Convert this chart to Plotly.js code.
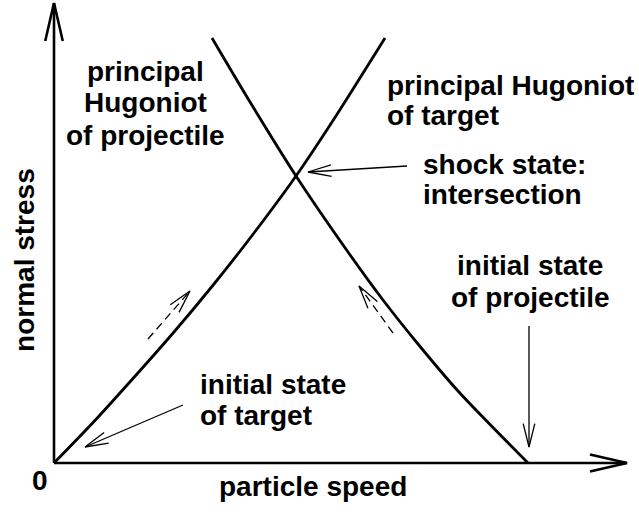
<!DOCTYPE html>
<html><head><meta charset="utf-8">
<script src="https://cdn.plot.ly/plotly-3.0.1.min.js"></script>
<style>html,body{margin:0;padding:0;background:#fff}</style>
</head><body><div id="chart" style="width:639px;height:512px"></div>
<script>
// ---- Data (schematic, arbitrary units) ----
const targetSpeed      = [0, 0.40, 0.83, 1.20, 1.60, 2.00, 2.42, 2.80, 3.31];
const targetStress     = [0, 0.415, 0.89, 1.31, 1.79, 2.30, 2.87, 3.44, 4.25];
const projectileSpeed  = [4.74, 4.04, 3.64, 3.29, 2.94, 2.42, 1.93, 1.58];
const projectileStress = [0, 0.72, 1.19, 1.63, 2.11, 2.87, 3.66, 4.25];
const shockIndexTarget = 6;   // intersection point index on target curve
const axisMaxSpeed  = 5.73;
const axisMaxStress = 4.60;

// ---- Layout helpers ----
const W = 639, H = 512;
const xr = [-0.54, 5.85], yr = [-0.49, 4.63];
const toPx = (x, y) => [(x - xr[0]) / (xr[1] - xr[0]) * W, (1 - (y - yr[0]) / (yr[1] - yr[0])) * H];
const toD  = (px, py) => [xr[0] + px / W * (xr[1] - xr[0]), yr[1] - py / H * (yr[1] - yr[0])];

const shapes = [];
function seg(p1, p2, width, dash) {
  const a = toD(p1[0], p1[1]), b = toD(p2[0], p2[1]);
  shapes.push({type: 'line', xref: 'x', yref: 'y', x0: a[0], y0: a[1], x1: b[0], y1: b[1],
    line: {color: '#000', width: width, dash: dash || 'solid'}, layer: 'above'});
}
function head(tip, from, len, ang, width) {
  const dx = from[0] - tip[0], dy = from[1] - tip[1], n = Math.hypot(dx, dy);
  const ux = dx / n, uy = dy / n, r = ang * Math.PI / 180;
  const arms = [r, -r].map(t => [tip[0] + len * (ux * Math.cos(t) - uy * Math.sin(t)),
                                 tip[1] + len * (ux * Math.sin(t) + uy * Math.cos(t))]);
  const d = arms.map(p => toD(p[0], p[1])), t = toD(tip[0], tip[1]);
  shapes.push({type: 'path', xref: 'x', yref: 'y',
    path: `M${d[0][0]},${d[0][1]} L${t[0]},${t[1]} L${d[1][0]},${d[1][1]}`,
    line: {color: '#000', width: width}, layer: 'above'});
}
function arrow(tail, tip, width, dash, len, ang) {
  seg(tail, tip, width, dash);
  head(tip, tail, len, ang, width);
}
const add = (p, o) => [p[0] + o[0], p[1] + o[1]];

// axes
const O = toPx(0, 0);
arrow(O, toPx(0, axisMaxStress), 2.6, null, 39, 13);
arrow(O, toPx(axisMaxSpeed, 0), 2.6, null, 38, 13);

// pointer arrows
const shockP = toPx(targetSpeed[shockIndexTarget], targetStress[shockIndexTarget]);
const shockHead = add(shockP, [12, -4]);
arrow(add(shockHead, [99, -6]), shockHead, 1.3, null, 24, 14);
const tgtHead = add(O, [31, -16]);
arrow(add(tgtHead, [98, -42]), tgtHead, 1.3, null, 24, 14);
const projP = toPx(projectileSpeed[0], projectileStress[0]);
const projHead = add(projP, [1, -16]);
arrow(add(projHead, [0, -121]), projHead, 1.3, null, 24, 14);

// dashed direction arrows beside curves
const tRef = toPx(targetSpeed[3], targetStress[3]);
arrow(add(tRef, [-26, 7]), add(tRef, [16, -41]), 1.3, '8px,5px', 24, 14);
const pRef = toPx(projectileSpeed[2], projectileStress[2]);
arrow(add(pRef, [-25, -11]), add(pRef, [-59, -58]), 1.3, '8px,5px', 24, 14);

// ---- Labels ----
const FS = 28;
const font = {family: 'Liberation Sans, Arial, sans-serif', size: FS, color: '#000', weight: 'bold'};
const labels = [
  // text, x px, baseline px, xanchor
  ['principal', 145, 82, 'center'],
  ['Hugoniot', 145, 113, 'center'],
  ['of projectile', 145, 146, 'center'],
  ['principal Hugoniot', 386, 96, 'left'],
  ['of target', 386, 126, 'left'],
  ['shock state:', 422, 175, 'left'],
  ['intersection', 422, 205, 'left'],
  ['initial state', 530, 276, 'center'],
  ['of projectile', 530, 308, 'center'],
  ['initial state', 199, 395, 'left'],
  ['of target', 199, 426, 'left'],
  ['particle speed', 313, 497, 'center'],
  ['0', 40, 491, 'center']
];
const annotations = labels.map(l => {
  const p = toD(l[1], l[2] - 0.36 * FS);
  return {text: l[0], x: p[0], y: p[1], xref: 'x', yref: 'y', xanchor: l[3], yanchor: 'middle',
          showarrow: false, font: font, borderpad: 0};
});
const vt = toD(34 - 0.36 * FS, 260);
annotations.push({text: 'normal stress', x: vt[0], y: vt[1], xref: 'x', yref: 'y', textangle: -90,
  xanchor: 'center', yanchor: 'middle', showarrow: false, font: font, borderpad: 0});

const traces = [
  {x: targetSpeed, y: targetStress, type: 'scatter', mode: 'lines', name: 'target',
   line: {color: '#000', width: 2.8, shape: 'spline', smoothing: 0.8}},
  {x: projectileSpeed, y: projectileStress, type: 'scatter', mode: 'lines', name: 'projectile',
   line: {color: '#000', width: 2.8, shape: 'spline', smoothing: 0.8}}
];

const layout = {
  width: W, height: H, margin: {l: 0, r: 0, t: 0, b: 0, pad: 0},
  paper_bgcolor: '#fff', plot_bgcolor: '#fff', showlegend: false,
  xaxis: {range: xr, visible: false, fixedrange: true},
  yaxis: {range: yr, visible: false, fixedrange: true},
  shapes: shapes, annotations: annotations
};
Plotly.newPlot('chart', traces, layout, {displayModeBar: false, staticPlot: true});
</script>
</body></html>
